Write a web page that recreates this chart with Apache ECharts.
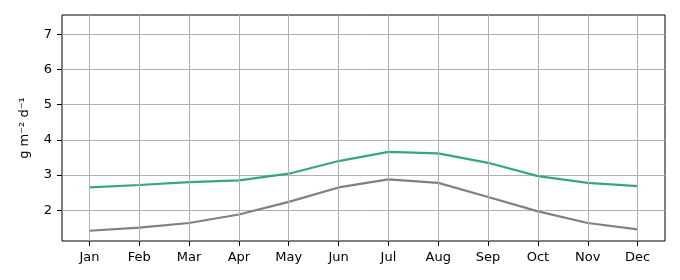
<!DOCTYPE html>
<html><head><meta charset="utf-8">
<script src="https://cdn.jsdelivr.net/npm/echarts@6/dist/echarts.min.js"></script>
<style>html,body{margin:0;padding:0;background:#fff}#c{width:680px;height:280px}</style>
</head><body><div id="c"></div>
<script>
const months = ['Jan','Feb','Mar','Apr','May','Jun','Jul','Aug','Sep','Oct','Nov','Dec'];
const greenSeries = [2.65,2.72,2.80,2.85,3.04,3.40,3.66,3.62,3.35,2.97,2.78,2.69];
const graySeries = [1.42,1.51,1.64,1.88,2.24,2.65,2.88,2.78,2.38,1.97,1.64,1.46];
const yTicks = [2,3,4,5,6,7];
const yLabel = 'g m\u207B\u00B2 d\u207B\u00B9';

const xIdx = months.map((m,i)=>i);
const chart = echarts.init(document.getElementById('c'), null, {renderer:'canvas'});
const font = 'DejaVu Sans';
chart.setOption({
  animation:false,
  grid:{left:62,right:15,top:15,bottom:39,show:true,borderColor:'#000',borderWidth:1,backgroundColor:'transparent'},
  xAxis:{type:'value',min:-0.55,max:11.55,
    axisLine:{show:false,onZero:false},
    axisTick:{show:true,length:5,lineStyle:{color:'#000'},customValues:xIdx},
    axisLabel:{customValues:xIdx,formatter:v=>months[Math.round(v)],color:'#000',fontFamily:font,fontSize:13,margin:10},
    splitLine:{show:false}
  },
  yAxis:{type:'value',min:1.128,max:7.55,
    name:yLabel,nameLocation:'middle',nameGap:31,nameTextStyle:{color:'#000',fontFamily:font,fontSize:13},
    axisLine:{show:false,onZero:false},
    axisTick:{show:true,length:5,lineStyle:{color:'#000'},customValues:yTicks},
    axisLabel:{customValues:yTicks,color:'#000',fontFamily:font,fontSize:13,margin:10},
    splitLine:{show:true,lineStyle:{color:'#b0b0b0',width:1}}
  },
  series:[
    {type:'line',data:[],z:1,silent:true,
     markLine:{silent:true,symbol:'none',label:{show:false},animation:false,
       lineStyle:{color:'#b0b0b0',width:1,type:'solid'},
       data:xIdx.map(i=>({xAxis:i}))}},
    {type:'line',data:xIdx.map(i=>[i,greenSeries[i]]),showSymbol:false,lineStyle:{color:'#35a878',width:2.2},z:3},
    {type:'line',data:xIdx.map(i=>[i,graySeries[i]]),showSymbol:false,lineStyle:{color:'#808080',width:2.2},z:3}
  ]
});
</script></body></html>
